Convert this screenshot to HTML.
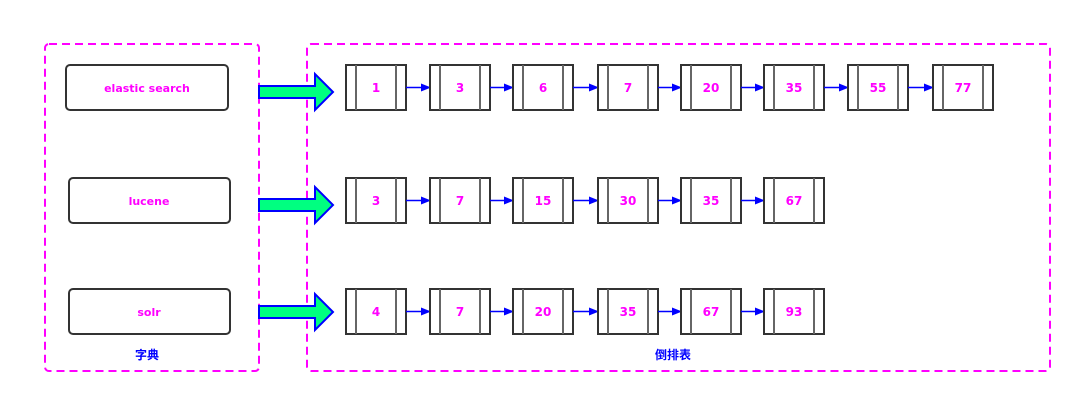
<!DOCTYPE html>
<html><head><meta charset="utf-8"><style>
body{margin:0;background:#fff;width:1080px;height:401px;overflow:hidden}
</style></head><body>
<svg width="1080" height="401" xmlns="http://www.w3.org/2000/svg" font-family="'DejaVu Sans','Noto Sans CJK SC',sans-serif" font-weight="bold">
<defs><marker id="a" markerWidth="10" markerHeight="8" refX="9" refY="4" orient="auto" markerUnits="userSpaceOnUse"><path d="M0,0 L10,4 L0,8 z" fill="#0000ff"/></marker></defs>
<rect x="45" y="44" width="214" height="327" rx="4" fill="none" stroke="#ff00ff" stroke-width="2" stroke-dasharray="8,5"/>
<rect x="307" y="44" width="743" height="327" rx="4" fill="none" stroke="#ff00ff" stroke-width="2" stroke-dasharray="8,5"/>
<g fill="#fff" stroke="#333" stroke-width="2">
<rect x="66" y="65" width="162" height="45" rx="4"/>
<rect x="69" y="178" width="161" height="45" rx="4"/>
<rect x="69" y="289" width="161" height="45" rx="4"/>
</g>
<g fill="#ff00ff" font-size="11" text-anchor="middle">
<text x="147" y="92">elastic search</text>
<text x="149" y="205">lucene</text>
<text x="149" y="316">solr</text>
</g>
<g fill="#0000ff" font-size="12" text-anchor="middle" font-family="'Noto Sans CJK SC',sans-serif">
<text x="147" y="359">字典</text>
<text x="673" y="359">倒排表</text>
</g>
<g fill="#00ff80" stroke="#0000ff" stroke-width="2">
<path d="M259,86 L315,86 L315,74 L333,92 L315,110 L315,98 L259,98 z"/>
<path d="M259,199 L315,199 L315,187 L333,205 L315,223 L315,211 L259,211 z"/>
<path d="M259,306 L315,306 L315,294 L333,312 L315,330 L315,318 L259,318 z"/>
</g>
<g id="nodes"></g>
</svg>
<script>
const xs=[346,430,513,598,681,764,848,933];
const rows=[[65,["1","3","6","7","20","35","55","77"]],[178,["3","7","15","30","35","67"]],[289,["4","7","20","35","67","93"]]];
let s="";
rows.forEach(([y,v])=>{v.forEach((t,i)=>{const x=xs[i];
s+=`<rect x="${x}" y="${y}" width="60" height="45" fill="#fff" stroke="#333" stroke-width="2"/><line x1="${x+10}" y1="${y}" x2="${x+10}" y2="${y+45}" stroke="#666" stroke-width="2"/><line x1="${x+50}" y1="${y}" x2="${x+50}" y2="${y+45}" stroke="#666" stroke-width="2"/><text x="${x+30}" y="${y+27}" fill="#ff00ff" font-size="12" text-anchor="middle">${t}</text>`;
if(i<v.length-1)s+=`<line x1="${x+60}" y1="${y+22.5}" x2="${xs[i+1]}" y2="${y+22.5}" stroke="#0000ff" stroke-width="1.5" marker-end="url(#a)"/>`;});});
document.getElementById("nodes").innerHTML=s;
</script>
</body></html>
